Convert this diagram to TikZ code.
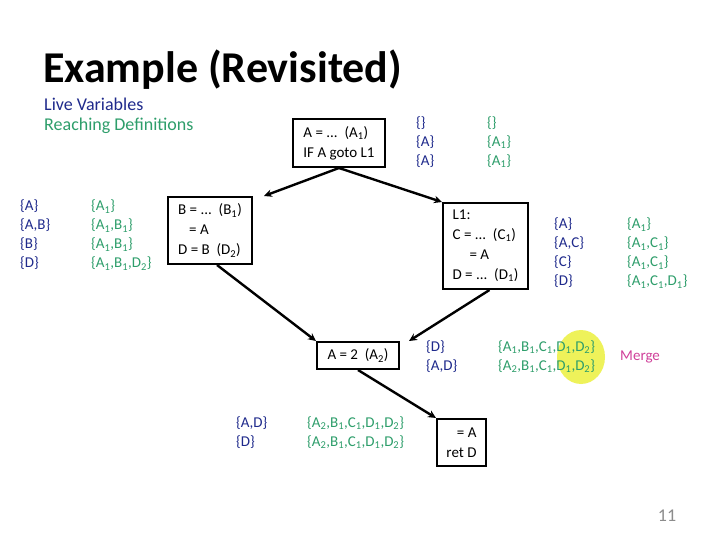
\documentclass[tikz,border=0pt]{standalone}
\usepackage{fontspec}
\setmainfont{Carlito}
\usetikzlibrary{arrows.meta,calc}
\definecolor{lvblue}{HTML}{1F2A8C}
\definecolor{rdgreen}{HTML}{2E9E6B}
\definecolor{mergepink}{HTML}{D0409A}
\definecolor{hilite}{HTML}{EEF25A}
\definecolor{pagegray}{HTML}{8C8C8C}
\newcommand\sbs[1]{\textsubscript{#1}}
\begin{document}
\begin{tikzpicture}[x=1pt,y=-1pt,
  set/.style={font=\fontsize{15}{19}\selectfont, inner sep=0pt, align=left, anchor=west},
  lv/.style={set, text=lvblue},
  rd/.style={set, text=rdgreen},
  blk/.style={draw, line width=2pt, inner sep=0pt, font=\fontsize{15}{20}\selectfont, align=left},
  flow/.style={line width=2.4pt, -{Stealth[length=8pt,width=7.5pt]}}]
\useasboundingbox (0,0) rectangle (720,540);
\fill[white] (0,0) rectangle (720,540);

% title and legend
\node[anchor=base west, inner sep=0pt, font=\fontsize{44}{50}\selectfont\bfseries] (title) at (43,83) {Example (Revisited)};
\node[anchor=west, inner sep=0pt, font=\fontsize{18}{21}\selectfont, text=lvblue] (lvlab) at (44,104) {Live Variables};
\node[anchor=west, inner sep=0pt, font=\fontsize{18}{21}\selectfont, text=rdgreen] (rdlab) at (44,126) {Reaching Definitions};

% highlight
\fill[hilite] (581,357) ellipse [x radius=24pt, y radius=27pt];

% blocks
\node[blk, minimum width=92pt, minimum height=48pt] (top) at (339,143) {A = ...\ \ (A\sbs{1})\\IF A goto L1};
\node[blk, minimum width=84pt, minimum height=67pt] (bb) at (210,230.5) {B = ...\ \ (B\sbs{1})\\\hspace*{11pt}= A\\D = B\ \ (D\sbs{2})};
\node[blk, minimum width=85pt, minimum height=86pt] (lone) at (485.5,246) {L1:\\C = ...\ \ (C\sbs{1})\\\hspace*{17pt}= A\\D = ...\ \ (D\sbs{1})};
\node[blk, minimum width=82pt, minimum height=27pt] (atwo) at (358,355.5) {A = 2\ \ (A\sbs{2})};
\node[blk, minimum width=49pt, minimum height=47pt, align=right] (ret) at (461.5,442.5) {= A\\ret D};

% connectors
\draw[flow] (top.south) -- ([xshift=11pt]bb.north east);
\draw[flow] (top.south) -- (lone.north west);
\draw[flow] ([xshift=7pt]bb.south) -- (atwo.north west);
\draw[flow] ([xshift=4pt]lone.south) -- ([xshift=9pt]atwo.north east);
\draw[flow] (atwo.south) -- (ret.north west);

% sets
\node[lv] (s1) at (20,235) {\{A\}\\\{A,B\}\\\{B\}\\\{D\}};
\node[rd] (r1) at (91,235) {\{A\sbs{1}\}\\\{A\sbs{1},B\sbs{1}\}\\\{A\sbs{1},B\sbs{1}\}\\\{A\sbs{1},B\sbs{1},D\sbs{2}\}};

\node[lv] (s2) at (416,142) {\{\}\\\{A\}\\\{A\}};
\node[rd] (r2) at (487,142) {\{\}\\\{A\sbs{1}\}\\\{A\sbs{1}\}};

\node[lv] (s3) at (554,253) {\{A\}\\\{A,C\}\\\{C\}\\\{D\}};
\node[rd] (r3) at (627,253) {\{A\sbs{1}\}\\\{A\sbs{1},C\sbs{1}\}\\\{A\sbs{1},C\sbs{1}\}\\\{A\sbs{1},C\sbs{1},D\sbs{1}\}};

\node[lv] (s4) at (426,356.5) {\{D\}\\\{A,D\}};
\node[rd] (r4) at (498,356.5) {\{A\sbs{1},B\sbs{1},C\sbs{1},D\sbs{1},D\sbs{2}\}\\\{A\sbs{2},B\sbs{1},C\sbs{1},D\sbs{1},D\sbs{2}\}};

\node[lv] (s5) at (236,432.5) {\{A,D\}\\\{D\}};
\node[rd] (r5) at (307,432.5) {\{A\sbs{2},B\sbs{1},C\sbs{1},D\sbs{1},D\sbs{2}\}\\\{A\sbs{2},B\sbs{1},C\sbs{1},D\sbs{1},D\sbs{2}\}};

\node[anchor=west, inner sep=0pt, font=\fontsize{15}{19}\selectfont, text=mergepink] (merge) at (620,357) {Merge};

\node[inner sep=0pt, font=\fontsize{18}{20}\selectfont, text=pagegray] (pg) at (667,516) {11};
\end{tikzpicture}
\end{document}
